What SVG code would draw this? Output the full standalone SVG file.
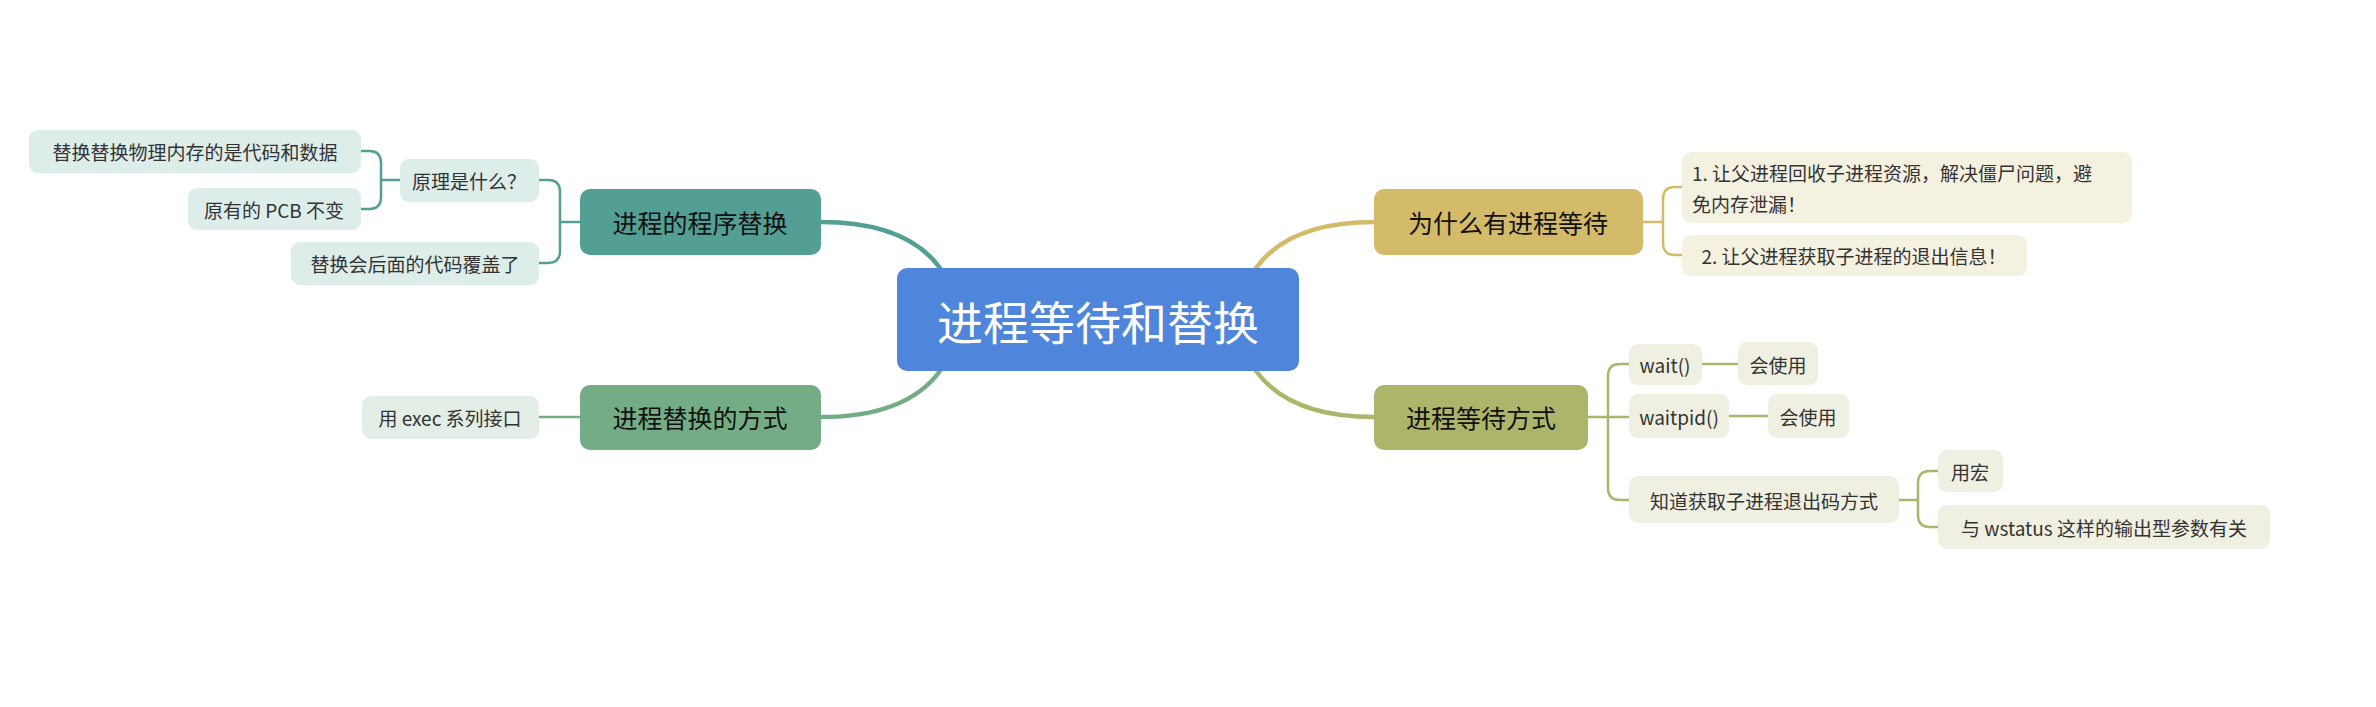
<svg xmlns="http://www.w3.org/2000/svg" width="2376" height="707" viewBox="0 0 2376 707">
<style>
text{font-family:"Noto Sans CJK SC","Noto Sans",sans-serif;dominant-baseline:central;text-anchor:middle}
.l1{font-size:25px;fill:#111}
.lf{font-size:19px;fill:#333}
.c{fill:none;stroke-linecap:round}
.t{stroke:#539f94}.g{stroke:#74ad85}.y{stroke:#d4bb6a}.o{stroke:#adb56b}
.th{stroke-width:4.5}.tn{stroke-width:2.5}
</style>
<rect width="2376" height="707" fill="#fff"/>
<g id="connectors">
<path class="c t th" d="M821,222 C880,222 918,238 940,268"/>
<path class="c g th" d="M821,417 C880,417 918,401 940,371"/>
<path class="c y th" d="M1374,222 C1315,222 1278,238 1256,268"/>
<path class="c o th" d="M1374,417 C1315,417 1278,401 1256,371"/>
<path class="c t tn" d="M539,180 H548 Q560,180 560,192 V251 Q560,263 548,263 H539 M560,222 H580"/>
<path class="c t tn" d="M361,151 H369 Q381,151 381,163 V197 Q381,209 369,209 H361 M381,180 H400"/>
<path class="c g tn" d="M539,417 H580"/>
<path class="c y tn" d="M1682,187 H1675 Q1663,187 1663,199 V243 Q1663,255 1675,255 H1682 M1643,222 H1663"/>
<path class="c o tn" d="M1629,364 H1620 Q1608,364 1608,376 V488 Q1608,500 1620,500 H1629 M1588,417 H1629"/>
<path class="c o tn" d="M1702,364 H1738 M1729,416 H1768"/>
<path class="c o tn" d="M1938,471 H1930 Q1918,471 1918,483 V515 Q1918,527 1930,527 H1938 M1899,500 H1918"/>
</g>
<g id="root"><rect x="897" y="268" width="402" height="103" rx="10" fill="#4f86db"/><text x="1098" y="320" font-size="46" fill="#fff">进程等待和替换</text></g>
<g id="n1"><rect x="580" y="189" width="241" height="66" rx="10" fill="#539f94"/><text class="l1" x="700" y="222">进程的程序替换</text></g>
<g id="n2"><rect x="580" y="385" width="241" height="65" rx="10" fill="#74ad85"/><text class="l1" x="700" y="417">进程替换的方式</text></g>
<g id="n3"><rect x="1374" y="189" width="269" height="66" rx="10" fill="#d4bb6a"/><text class="l1" x="1508" y="222">为什么有进程等待</text></g>
<g id="n4"><rect x="1374" y="385" width="214" height="65" rx="10" fill="#adb56b"/><text class="l1" x="1481" y="417">进程等待方式</text></g>
<g id="a1"><rect x="400" y="159" width="139" height="43" rx="9" fill="#ddedea"/><text class="lf" x="469" y="180">原理是什么？</text></g>
<g id="a2"><rect x="29" y="130" width="332" height="43" rx="9" fill="#ddedea"/><text class="lf" x="195" y="151">替换替换物理内存的是代码和数据</text></g>
<g id="a3"><rect x="188" y="188" width="173" height="42" rx="9" fill="#ddedea"/><text class="lf" x="274" y="209">原有的 PCB 不变</text></g>
<g id="a4"><rect x="291" y="242" width="248" height="43" rx="9" fill="#ddedea"/><text class="lf" x="415" y="263">替换会后面的代码覆盖了</text></g>
<g id="b1"><rect x="362" y="396" width="177" height="43" rx="9" fill="#e3efe6"/><text class="lf" x="450" y="417">用 exec 系列接口</text></g>
<g id="c1"><rect x="1682" y="152" width="450" height="71" rx="9" fill="#f5f1e1"/><text class="lf" x="1692" y="172" style="text-anchor:start">1. 让父进程回收子进程资源，解决僵尸问题，避</text><text class="lf" x="1692" y="203" style="text-anchor:start">免内存泄漏！</text></g>
<g id="c2"><rect x="1682" y="235" width="345" height="41" rx="9" fill="#f5f1e1"/><text class="lf" x="1854" y="255">2. 让父进程获取子进程的退出信息！</text></g>
<g id="d1"><rect x="1629" y="344" width="73" height="41" rx="9" fill="#eff0e1"/><text class="lf" x="1665" y="364">wait()</text></g>
<g id="d2"><rect x="1738" y="342" width="80" height="43" rx="9" fill="#eff0e1"/><text class="lf" x="1778" y="364">会使用</text></g>
<g id="d3"><rect x="1629" y="394" width="100" height="44" rx="9" fill="#eff0e1"/><text class="lf" x="1679" y="416">waitpid()</text></g>
<g id="d4"><rect x="1768" y="394" width="81" height="44" rx="9" fill="#eff0e1"/><text class="lf" x="1808" y="416">会使用</text></g>
<g id="d5"><rect x="1629" y="476" width="270" height="47" rx="9" fill="#eff0e1"/><text class="lf" x="1764" y="500">知道获取子进程退出码方式</text></g>
<g id="d6"><rect x="1938" y="450" width="65" height="42" rx="9" fill="#eff0e1"/><text class="lf" x="1970" y="471">用宏</text></g>
<g id="d7"><rect x="1938" y="505" width="332" height="44" rx="9" fill="#eff0e1"/><text class="lf" x="2104" y="527">与 wstatus 这样的输出型参数有关</text></g>
</svg>
